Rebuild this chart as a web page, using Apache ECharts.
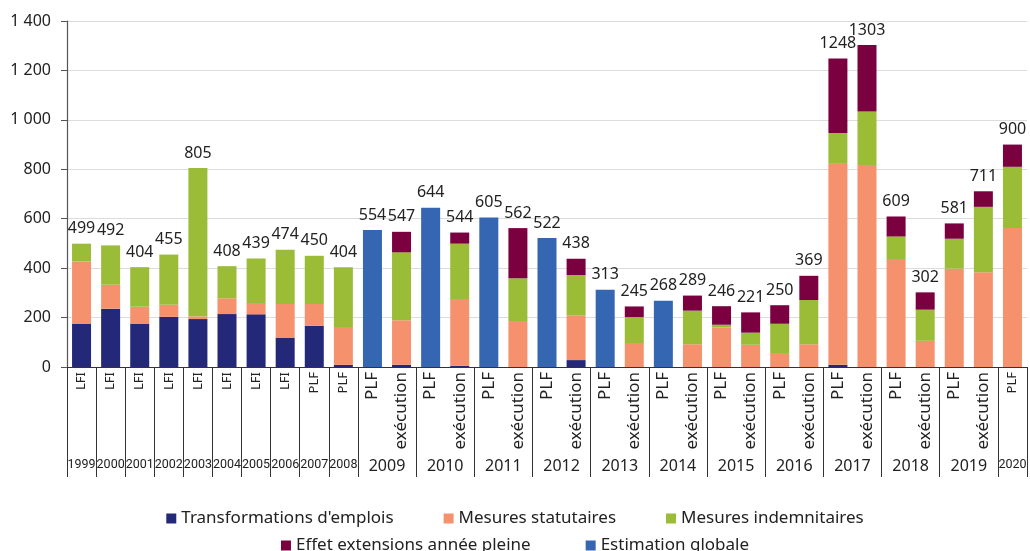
<!DOCTYPE html>
<html>
<head>
<meta charset="utf-8">
<script src="https://cdn.jsdelivr.net/npm/echarts@6/dist/echarts.min.js"></script>
<style>
  html, body { margin: 0; padding: 0; background: #fff; }
  #chart { width: 1030px; height: 551px; }
</style>
</head>
<body>
<div id="chart"></div>
<script>
// One entry per bar: budget year and stage (LFI / PLF / exécution)
const barYears = ['1999','2000','2001','2002','2003','2004','2005','2006','2007','2008',
  '2009','2009','2010','2010','2011','2011','2012','2012','2013','2013','2014','2014',
  '2015','2015','2016','2016','2017','2017','2018','2018','2019','2019','2020'];
const barStages = ['LFI','LFI','LFI','LFI','LFI','LFI','LFI','LFI','PLF','PLF',
  'PLF','exécution','PLF','exécution','PLF','exécution','PLF','exécution','PLF','exécution','PLF','exécution',
  'PLF','exécution','PLF','exécution','PLF','exécution','PLF','exécution','PLF','exécution','PLF'];

// Stacked components (M€)
const transformations = [174,236,174,203,194,214,213,119,167,9,
  null,9,null,5,null,0,null,28,null,0,null,0,
  0,0,0,0,9,0,0,0,0,0,0];
const statutaires = [253,97,70,49,11,64,46,136,88,153,
  null,180,null,270,null,186,null,181,null,97,null,92,
  160,90,53,92,813,817,437,106,398,383,562];
const indemnitaires = [72,159,160,203,600,130,180,219,195,242,
  null,275,null,224,null,173,null,163,null,105,null,136,
  11,49,122,179,125,217,91,126,121,265,248];
const extensions = [null,null,null,null,null,null,null,null,null,null,
  null,83,null,45,null,203,null,66,null,43,null,61,
  75,82,75,98,301,269,81,70,62,63,90];
const estimation = [null,null,null,null,null,null,null,null,null,null,
  554,null,644,null,605,null,522,null,313,null,268,null,
  null,null,null,null,null,null,null,null,null,null,null];

const names = ["Transformations d'emplois", 'Mesures statutaires', 'Mesures indemnitaires',
  'Effet extensions année pleine', 'Estimation globale'];
const colors = ['#242878', '#F5916D', '#9ABC37', '#7A003F', '#3566B2'];
const yTicks = [0, 200, 400, 600, 800, 1000, 1200, 1400];

const FONT = '"Noto Sans", "Open Sans", sans-serif';
const NARROW = 'Roboto, sans-serif';
const seriesData = [transformations, statutaires, indemnitaires, extensions, estimation];

// Bar totals shown above each stack
const totals = barYears.map((_, i) =>
  seriesData.reduce((s, arr) => s + (arr[i] || 0), 0));

// Year groups: first bar index and bar count for each year
const groups = [];
barYears.forEach((y, i) => {
  const g = groups[groups.length - 1];
  if (g && g.year === y) g.count++;
  else groups.push({ year: y, start: i, count: 1 });
});
const groupStart = {};
groups.forEach(g => { groupStart[g.start] = true; });
const yearAt = {};
groups.forEach(g => { yearAt[(g.start + g.count / 2).toFixed(1)] = g; });
const groupOf = i => groups.find(g => g.start <= i && i < g.start + g.count);

const fmtThousands = v => String(v).replace(/\B(?=(\d{3})+(?!\d))/g, ' ');

const series = seriesData.map((arr, k) => ({
  name: names[k],
  type: 'bar',
  stack: 'total',
  barWidth: 19,
  xAxisIndex: 0,
  itemStyle: { color: colors[k] },
  data: arr
}));
series.push({
  name: 'total',
  type: 'bar',
  stack: 'total',
  barWidth: 19,
  xAxisIndex: 0,
  itemStyle: { color: 'transparent' },
  label: {
    show: true,
    position: 'top',
    distance: 7,
    fontFamily: FONT,
    fontSize: 16,
    color: '#222',
    formatter: p => totals[p.dataIndex]
  },
  data: totals.map(() => 0)
});

const legendText = { fontFamily: FONT, fontSize: 17, color: '#222' };

const chart = echarts.init(document.getElementById('chart'), null, { renderer: 'canvas' });
chart.setOption({
  animation: false,
  backgroundColor: '#fff',
  textStyle: { fontFamily: FONT },
  grid: { left: 67, right: 1, top: 21, bottom: 184, containLabel: false },
  legend: [
    {
      data: names.slice(0, 3),
      left: 'center',
      top: 505,
      icon: 'rect',
      itemWidth: 10,
      itemHeight: 10,
      itemGap: 50,
      textStyle: legendText
    },
    {
      data: names.slice(3),
      left: 'center',
      top: 532,
      icon: 'rect',
      itemWidth: 10,
      itemHeight: 10,
      itemGap: 55,
      textStyle: legendText
    }
  ],
  xAxis: [
    {
      type: 'category',
      data: barStages,
      position: 'bottom',
      axisLine: { show: true, lineStyle: { color: '#333', width: 1 } },
      axisTick: {
        show: true,
        length: 110,
        interval: idx => !!groupStart[idx],
        lineStyle: { color: '#333', width: 1 }
      },
      axisLabel: {
        interval: 0,
        rotate: 90,
        margin: 5,
        color: '#222',
        formatter: (v, i) => (groupOf(i).count === 1 ? '{s|' + v + '}' : '{b|' + v + '}'),
        rich: {
          s: { fontFamily: FONT, fontSize: 13, color: '#222' },
          b: { fontFamily: FONT, fontSize: 17, color: '#222' }
        }
      },
      splitLine: { show: false }
    },
    {
      type: 'value',
      position: 'bottom',
      min: 0,
      max: barYears.length,
      interval: 0.5,
      axisLine: { show: false },
      axisTick: { show: false },
      splitLine: { show: false },
      axisLabel: {
        margin: 91,
        color: '#222',
        showMinLabel: true,
        showMaxLabel: true,
        formatter: v => {
          const g = yearAt[v.toFixed(1)];
          if (!g) return '';
          return g.count === 1 ? '{s|' + g.year + '}' : '{b|' + g.year + '}';
        },
        rich: {
          s: { fontFamily: NARROW, fontSize: 12.5, color: '#222' },
          b: { fontFamily: FONT, fontSize: 16, color: '#222' }
        }
      }
    }
  ],
  yAxis: {
    type: 'value',
    min: 0,
    max: 1400,
    interval: 200,
    axisLine: { show: true, lineStyle: { color: '#555', width: 1.2 } },
    axisTick: { show: true, length: 6, lineStyle: { color: '#555' } },
    axisLabel: {
      margin: 16,
      fontFamily: FONT,
      fontSize: 16,
      color: '#222',
      formatter: v => (yTicks.includes(v) ? fmtThousands(v) : '')
    },
    splitLine: { show: true, lineStyle: { color: '#dcdcdc', width: 1 } }
  },
  series: series
});
</script>
</body>
</html>
